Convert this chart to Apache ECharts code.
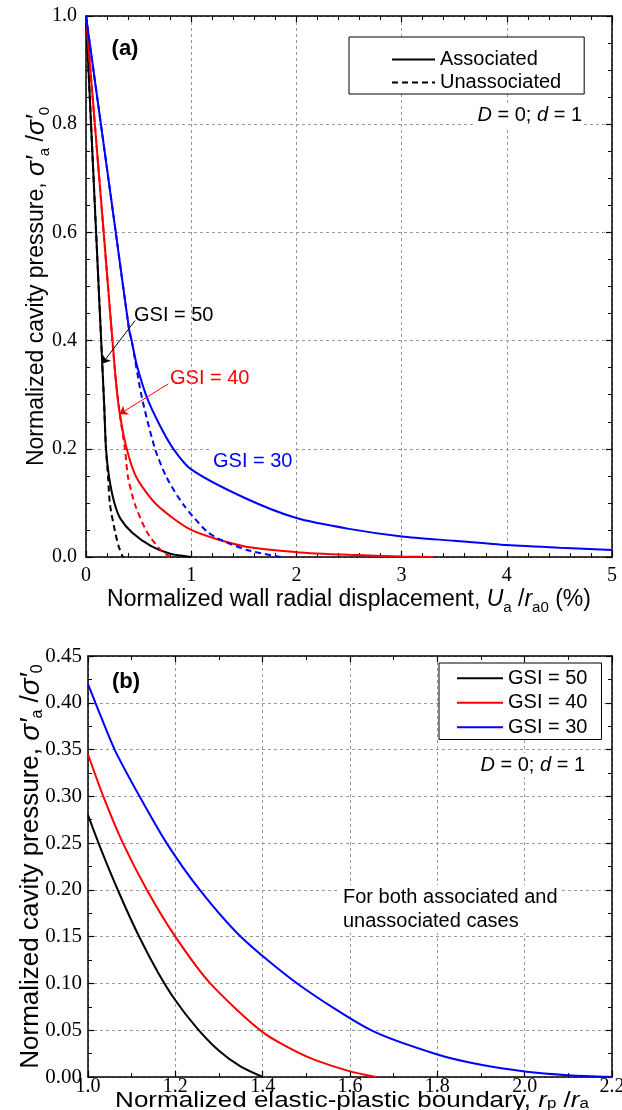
<!DOCTYPE html>
<html>
<head>
<meta charset="utf-8">
<script src="https://cdn.jsdelivr.net/npm/echarts@6/dist/echarts.min.js"></script>
<style>
  html, body { margin: 0; background: #fff; }
  #chart { width: 622px; height: 1110px; }
</style>
</head>
<body>
<div id="chart"></div>
<script>
// panel (a): wall displacement (%) vs cavity pressure
const a50AssocX = [0, 0.096, 0.173, 0.19, 0.22, 0.27, 0.33, 0.44, 0.62, 0.8, 1.0]
const a50AssocY = [1.0, 0.6, 0.28, 0.2, 0.147, 0.1, 0.07, 0.045, 0.02, 0.006, 0]
const a50UnassocX = [0, 0.096, 0.173, 0.19, 0.21, 0.228, 0.276, 0.31, 0.35]
const a50UnassocY = [1.0, 0.6, 0.28, 0.2, 0.147, 0.097, 0.047, 0.02, 0]

const a40AssocX = [0, 0.168, 0.275, 0.317, 0.387, 0.48, 0.67, 1.0, 1.5, 2.0, 2.5, 3.0, 3.3]
const a40AssocY = [1.0, 0.6, 0.345, 0.27, 0.2, 0.147, 0.097, 0.05, 0.02, 0.009, 0.004, 0.001, 0]
const a40UnassocX = [0, 0.168, 0.275, 0.317, 0.37, 0.40, 0.466, 0.577, 0.70, 0.80]
const a40UnassocY = [1.0, 0.6, 0.345, 0.27, 0.2, 0.147, 0.097, 0.047, 0.015, 0]

const a30AssocX = [0, 0.283, 0.41, 0.434, 0.48, 0.577, 0.7, 0.83, 1.0, 1.5, 2.0, 2.5, 3.0, 3.5, 4.0, 4.5, 5.0]
const a30AssocY = [1.0, 0.6, 0.42, 0.4, 0.357, 0.296, 0.244, 0.2, 0.162, 0.11, 0.072, 0.052, 0.038, 0.03, 0.022, 0.017, 0.013]
const a30UnassocX = [0, 0.283, 0.41, 0.434, 0.53, 0.656, 0.767, 0.925, 1.15, 1.3, 1.53, 1.85]
const a30UnassocY = [1.0, 0.6, 0.42, 0.4, 0.296, 0.2, 0.147, 0.097, 0.047, 0.03, 0.013, 0]

// annotation arrows in panel (a), [from, to]
const arrow50 = [[0.466, 0.437], [0.152, 0.357]]
const arrow40 = [[0.782, 0.320], [0.317, 0.264]]

// panel (b): elastic-plastic boundary vs cavity pressure
const b50X = [1.0, 1.03, 1.07, 1.115, 1.16, 1.2, 1.25, 1.3, 1.35, 1.4]
const b50Y = [0.28, 0.243, 0.198, 0.152, 0.112, 0.082, 0.052, 0.028, 0.011, 0]
const b40X = [1.0, 1.035, 1.08, 1.135, 1.2, 1.28, 1.4, 1.5, 1.6, 1.66]
const b40Y = [0.345, 0.30, 0.25, 0.2, 0.15, 0.10, 0.048, 0.022, 0.006, 0]
const b30X = [1.0, 1.017, 1.061, 1.118, 1.18, 1.256, 1.35, 1.479, 1.648, 1.8, 1.9, 2.0, 2.1, 2.2]
const b30Y = [0.42, 0.40, 0.35, 0.30, 0.25, 0.20, 0.15, 0.10, 0.05, 0.024, 0.013, 0.006, 0.002, 0]

const SANS = 'Liberation Sans'
const SERIF = 'Liberation Serif'
const RED = '#ff0000'
const BLUE = '#0000ff'

const pairs = (xs, ys) => xs.map((x, i) => [x, ys[i]])

// rich styles for names with italic symbols and subscripts (key is 'color' for axis names, 'fill' for graphics)
function makeRich(fs, sigmaFs, subFs, lh, key) {
  const c = key || 'color'
  return {
    t: { fontFamily: SANS, fontSize: fs, [c]: '#000', lineHeight: lh, verticalAlign: 'middle' },
    i: { fontFamily: SANS, fontSize: fs, [c]: '#000', fontStyle: 'italic', lineHeight: lh, verticalAlign: 'middle' },
    g: { fontFamily: SANS, fontSize: sigmaFs, [c]: '#000', fontStyle: 'italic', lineHeight: lh, verticalAlign: 'middle' },
    s: { fontFamily: SANS, fontSize: subFs, [c]: '#000', lineHeight: subFs, verticalAlign: 'bottom' },
  }
}
const yName = '{t|Normalized cavity pressure, }{g|σ′}{s|a}{t| /}{g|σ′}{s|0}'
const xNameA = '{t|Normalized wall radial displacement, }{i|U}{s|a}{t| /}{i|r}{s|a0}{t| (%)}'
const xNameB = '{t|Normalized elastic-plastic boundary, }{i|r}{s|p}{t| /}{i|r}{s|a}'

const axisLine = { show: true, onZero: false, lineStyle: { color: '#000', width: 1.5 } }
const axisTick = { show: true, inside: true, length: 6, lineStyle: { color: '#000', width: 1.2 } }
const minorTick = (n) => ({ show: true, splitNumber: n, length: 4, lineStyle: { color: '#000', width: 1 } })
const splitLine = { show: true, lineStyle: { color: '#999', width: 1, type: [3, 3] } }

function mainAxis(grid, min, max, interval, minor, fmt, labelSize, margin, name, nameGap, rich) {
  return {
    gridIndex: grid, type: 'value', min, max, interval,
    axisLine, axisTick, minorTick: minorTick(minor), splitLine,
    axisLabel: { fontFamily: SERIF, fontSize: labelSize, color: '#000', margin, formatter: fmt },
    name, nameLocation: 'middle', nameGap, nameMoveOverlap: false,
    nameTextStyle: { rich },
  }
}
function mirrorAxis(grid, pos, min, max, interval, minor) {
  return {
    gridIndex: grid, type: 'value', position: pos, min, max, interval,
    axisLine, axisTick, minorTick: minorTick(minor),
    splitLine: { show: false }, axisLabel: { show: false },
  }
}

const line = (name, xs, ys, color, dashed, axis, extra) => Object.assign({
  name, type: 'line', xAxisIndex: axis, yAxisIndex: axis,
  data: pairs(xs, ys), symbol: 'none', showSymbol: false,
  smooth: 0.25, color,
  lineStyle: { color, width: 2, type: dashed ? [6, 4] : 'solid' },
  z: 3,
}, extra || {})

const arrowMark = (pts, color) => ({
  markLine: {
    silent: true, symbol: ['none', 'arrow'], symbolSize: 8,
    label: { show: false },
    lineStyle: { color, width: 1, type: 'solid' },
    data: [[{ coord: pts[0] }, { coord: pts[1] }]],
  },
})

const legendBase = {
  orient: 'vertical', align: 'left', itemHeight: 12, itemGap: 0,
  borderColor: '#000', borderWidth: 1, borderRadius: 0,
  backgroundColor: '#fff', selectedMode: false,
  itemStyle: { opacity: 0 },
}

const dText = (x, y) => ({
  type: 'text', x, y, z: 10,
  style: {
    text: '{i|D} = 0; {i|d} = 1', font: '20px "Liberation Sans"', fill: '#000',
    align: 'right', verticalAlign: 'middle', backgroundColor: '#fff', padding: [2, 2],
    rich: { i: { fontFamily: SANS, fontSize: 20, fontStyle: 'italic', fill: '#000' } },
  },
})

const chart = echarts.init(document.getElementById('chart'), null, { renderer: 'canvas' })
chart.setOption({
  animation: false,
  backgroundColor: '#fff',
  grid: [
    { left: 86, right: 10, top: 16, bottom: 553, containLabel: false, outerBoundsMode: 'none' },
    { left: 88, right: 10, top: 656, bottom: 33, containLabel: false, outerBoundsMode: 'none' },
  ],
  xAxis: [
    mainAxis(0, 0, 5, 1, 5, (v) => v.toFixed(0), 20, 9, xNameA, 28, makeRich(23, 23, 15, 30)),
    mirrorAxis(0, 'top', 0, 5, 1, 5),
    mainAxis(1, 1.0, 2.2, 0.2, 2, (v) => v.toFixed(1), 20, 0, '', 0, {}),
    mirrorAxis(1, 'top', 1.0, 2.2, 0.2, 2),
  ],
  yAxis: [
    mainAxis(0, 0, 1, 0.2, 4, (v) => v.toFixed(1), 20, 9, yName, 34, makeRich(23, 25, 15, 30)),
    mirrorAxis(0, 'right', 0, 1, 0.2, 4),
    mainAxis(1, 0, 0.45, 0.05, 2, (v) => v.toFixed(2), 21, 6, yName, 42, makeRich(26, 28, 16, 30)),
    mirrorAxis(1, 'right', 0, 0.45, 0.05, 2),
  ],
  legend: [
    Object.assign({}, legendBase, {
      data: ['Associated', 'Unassociated'],
      left: 349, top: 37, itemWidth: 43,
      padding: [11, 23, 0, 42],
      textStyle: { fontFamily: SANS, fontSize: 20, color: '#000', lineHeight: 23 },
    }),
    Object.assign({}, legendBase, {
      data: ['GSI = 50', 'GSI = 40', 'GSI = 30'],
      left: 439, top: 663, itemWidth: 46,
      padding: [3, 14, 0, 17],
      textStyle: { fontFamily: SANS, fontSize: 20, color: '#000', lineHeight: 24.5 },
    }),
  ],
  series: [
    // legend-only entries for panel (a)
    { name: 'Associated', type: 'line', xAxisIndex: 0, yAxisIndex: 0, data: [], symbol: 'none',
      color: '#000', lineStyle: { color: '#000', width: 1.5, type: 'solid' } },
    { name: 'Unassociated', type: 'line', xAxisIndex: 0, yAxisIndex: 0, data: [], symbol: 'none',
      color: '#000', lineStyle: { color: '#000', width: 1.5, type: [6, 4] } },

    line('a50 associated', a50AssocX, a50AssocY, '#000', false, 0, arrowMark(arrow50, '#000')),
    line('a50 unassociated', a50UnassocX, a50UnassocY, '#000', true, 0),
    line('a40 associated', a40AssocX, a40AssocY, RED, false, 0, arrowMark(arrow40, RED)),
    line('a40 unassociated', a40UnassocX, a40UnassocY, RED, true, 0),
    line('a30 associated', a30AssocX, a30AssocY, BLUE, false, 0),
    line('a30 unassociated', a30UnassocX, a30UnassocY, BLUE, true, 0),

    line('GSI = 50', b50X, b50Y, '#000', false, 2),
    line('GSI = 40', b40X, b40Y, RED, false, 2),
    line('GSI = 30', b30X, b30Y, BLUE, false, 2),
  ],
  graphic: [
    { type: 'text', x: 125, y: 49, style: { text: '(a)', font: 'bold 22px "Liberation Sans"', fill: '#000', align: 'center', verticalAlign: 'middle' } },
    { type: 'text', x: 126, y: 682, style: { text: '(b)', font: 'bold 22px "Liberation Sans"', fill: '#000', align: 'center', verticalAlign: 'middle' } },
    { type: 'text', x: 134, y: 315, style: { text: 'GSI = 50', font: '20px "Liberation Sans"', fill: '#000', align: 'left', verticalAlign: 'middle' } },
    { type: 'text', x: 170, y: 378, style: { text: 'GSI = 40', font: '20px "Liberation Sans"', fill: RED, align: 'left', verticalAlign: 'middle' } },
    { type: 'text', x: 210, y: 461, z: 10, style: { text: 'GSI = 30', font: '20px "Liberation Sans"', fill: BLUE, align: 'left', verticalAlign: 'middle', backgroundColor: '#fff', padding: [2, 3] } },
    dText(584, 115),
    dText(587, 765),
    { type: 'text', x: 340, y: 885, z: 10, style: {
      text: 'For both associated and\nunassociated cases', font: '20px "Liberation Sans"', fill: '#000',
      align: 'left', verticalAlign: 'top', lineHeight: 24, backgroundColor: '#fff', padding: [0, 3] } },
    // x-axis title of panel (b), slightly widened as in the figure
    { type: 'text', x: 352, y: 1101, scaleX: 1.21, style: {
      text: xNameB, align: 'center', verticalAlign: 'middle',
      rich: makeRich(21.5, 21.5, 14, 21, 'fill') } },
  ],
})
window.addEventListener('resize', () => chart.resize())
</script>
</body>
</html>
